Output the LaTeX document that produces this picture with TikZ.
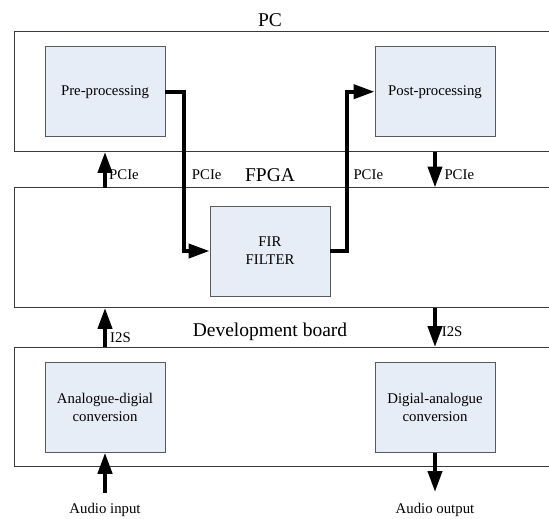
\documentclass[tikz,border=0pt]{standalone}
\usepackage{fontspec}
\setmainfont{Liberation Serif}
\usetikzlibrary{arrows.meta}
\definecolor{blockfill}{HTML}{E6EDF6}
\definecolor{blockline}{HTML}{5A5A5A}
\definecolor{outline}{HTML}{3A3A3A}
\begin{document}
\begin{tikzpicture}[x=1pt,y=-1pt,
  blk/.style={draw=blockline, fill=blockfill, line width=0.9pt, minimum width=120pt, minimum height=90pt,
    inner sep=0pt, align=center, font=\fontsize{14.8}{18}\selectfont},
  region/.style={inner sep=0pt, minimum width=534pt, minimum height=120pt},
  border/.style={draw=outline, line width=0.9pt},
  conn/.style={line width=4pt, -{Triangle[length=21pt,width=14pt]}},
  lbl/.style={font=\fontsize{14.8}{18}\selectfont, inner sep=0pt},
  ttl/.style={font=\fontsize{19.5}{22}\selectfont, inner sep=0pt}]
\useasboundingbox (0,0) rectangle (549,519);
% regions
\node[region] (pc) at (282,91.7) {};
\node[region] (fpga) at (282,247.7) {};
\node[region, minimum height=119.4pt] (dev) at (282,407) {};
\draw[border] (pc.north east) -- (pc.north west) -- (pc.south west) -- (pc.south east);
\draw[border] (fpga.north east) -- (fpga.north west) -- (fpga.south west) -- (fpga.south east);
\draw[border] (dev.north east) -- (dev.north west) -- (dev.south west) -- (dev.south east);
% titles
\node[ttl] (tpc) at (270,20) {PC};
\node[ttl] (tfpga) at (270,175) {FPGA};
\node[ttl] (tdev) at (270,332) {Development board};
% blocks
\node[blk] (pre) at (105,91.7) {Pre-processing};
\node[blk] (post) at (435,91.7) {Post-processing};
\node[blk, text width=110pt] (fir) at (270,251) {FIR\\FILTER};
\node[blk, text width=115pt] (adc) at (105,407.3) {Analogue-digial\\conversion};
\node[blk, text width=115pt] (dac) at (435,407.3) {Digial-analogue\\conversion};
% data path
\draw[conn] (pre.east) -- ++(19,0) |- (fir.west);
\draw[conn] (fir.east) -- ++(17,0) |- (post.west);
% interface arrows
\draw[conn] (fpga.north -| pre.south) -- (pc.south -| pre.south);
\draw[conn] (pc.south -| post.south) -- (fpga.north -| post.south);
\draw[conn] (dev.north -| adc.north) -- (fpga.south -| adc.north);
\draw[conn] (fpga.south -| dac.north) -- (dev.north -| dac.north);
% audio
\node[lbl] (ain) at (105,510) {Audio input};
\node[lbl] (aout) at (435,510) {Audio output};
\coordinate (ainc) at (105,493);
\coordinate (aoutc) at (435,492);
\draw[conn] (ainc) -- (adc.south);
\draw[conn] (dac.south) -- (aoutc);
% labels
\node[lbl, anchor=west] (l1) at (109,175) {PCIe};
\node[lbl, anchor=west] (l2) at (191.7,175) {PCIe};
\node[lbl, anchor=west] (l3) at (353.3,175) {PCIe};
\node[lbl, anchor=west] (l4) at (444.3,175) {PCIe};
\node[lbl, anchor=west] (l5) at (110,338) {I2S};
\node[lbl, anchor=west] (l6) at (441.7,332) {I2S};
\end{tikzpicture}
\end{document}
